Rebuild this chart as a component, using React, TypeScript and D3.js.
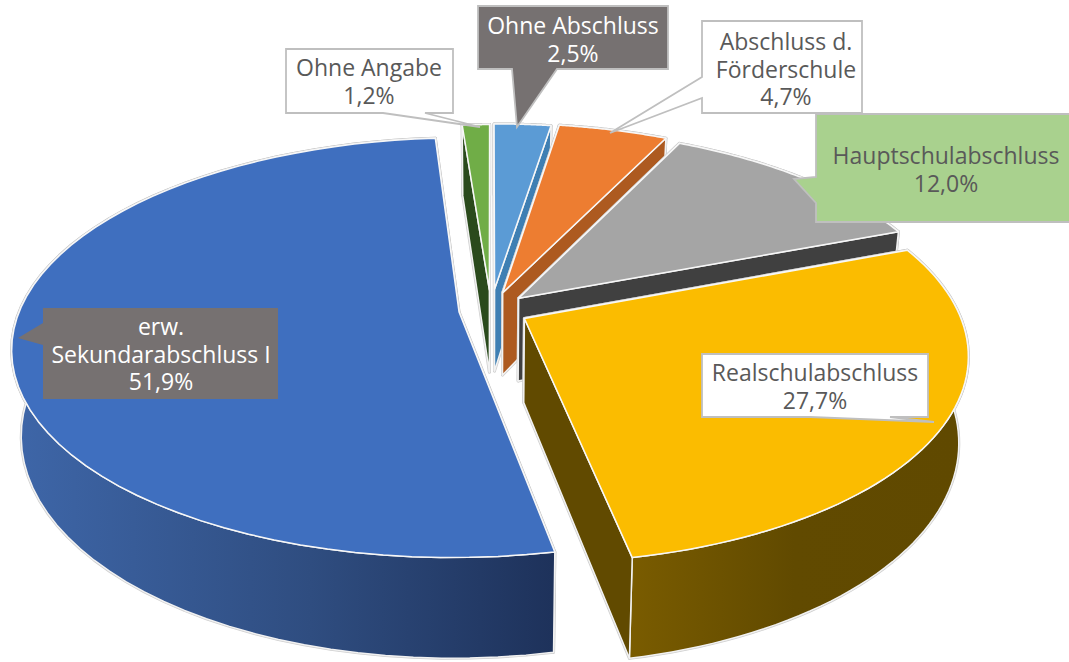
import React from 'react';
import * as d3 from 'd3';

// shares in percent, clockwise from 12 o'clock
const categories = ['Ohne Abschluss', 'Abschluss d. Förderschule', 'Hauptschulabschluss', 'Realschulabschluss', 'erw. Sekundarabschluss I', 'Ohne Angabe'];
const shares = [2.5, 4.7, 12.0, 27.7, 51.9, 1.2];
const labelLines = [['Ohne Abschluss'], ['Abschluss d.', 'Förderschule'], ['Hauptschulabschluss'], ['Realschulabschluss'], ['erw.', 'Sekundarabschluss I'], ['Ohne Angabe']];
const topColors = ['#5B9BD5', '#ED7D31', '#A5A5A5', '#FBBC00', '#3F6FBF', '#70AD47'];
const wallColors = ['#3F7FB3', '#AD5A20', '#404040', '#614A00', '#1F335C', '#2A4A1C'];
const explode = [0.105, 0.09, 0.086, 0.086, 0.073, 0.1];
const radius = [0.975, 0.997, 0.99, 0.983, 0.996, 0.975];
const paintOrder = [0, 1, 2, 5, 4, 3];

const WIDTH = 1069;
const HEIGHT = 662;
const cx = 491;
const cy = 310;
const Rx = 441;
const Ry = 204;
const persp = 0.17;
const depth = 83.5;
const bottomScale = 0.98;

const pie = d3.pie<number>().sort(null).value(d => d);
const arcs = pie(shares);
const fmt = (v: number) => d3.format('.1f')(v).replace('.', ',') + '%';
const toPath = d3.line<[number, number]>();

function project(angle: number, r: number, mid: number, ex: number, bottom: boolean): [number, number] {
  const u = ex * Math.sin(mid) + r * Math.sin(angle);
  const v = ex * Math.cos(mid) + r * Math.cos(angle);
  const p = 1 + persp * v;
  const x = cx + (Rx * u) / p;
  const y = cy - (Ry * v) / p;
  return bottom ? [cx + (x - cx) * bottomScale, y + depth / p] : [x, y];
}

function slicePaths(i: number) {
  const a = arcs[i];
  const mid = (a.startAngle + a.endAngle) / 2;
  const ex = explode[i];
  const r = radius[i];
  const steps = d3.range(0, 61).map(s => a.startAngle + ((a.endAngle - a.startAngle) * s) / 60);
  const topArc = steps.map(t => project(t, r, mid, ex, false));
  const botArc = steps.map(t => project(t, r, mid, ex, true));
  const apexT = project(0, 0, mid, ex, false);
  const apexB = project(0, 0, mid, ex, true);
  const wallStart = toPath([apexT, apexB, botArc[0], topArc[0]])! + 'Z';
  const wallEnd = toPath([apexT, apexB, botArc[60], topArc[60]])! + 'Z';
  // hidden walls go under the outer strip, the one that shows goes over it
  const under = i === 4 ? [wallStart, wallEnd] : i === 5 ? [wallEnd] : [wallStart];
  const over = i === 4 ? [] : i === 5 ? [wallStart] : [wallEnd];
  return {
    top: toPath([apexT, ...topArc])! + 'Z',
    strip: toPath([...topArc, ...[...botArc].reverse()])! + 'Z',
    under,
    over,
  };
}

// callout boxes: [x0, y0, x1, y1], tail polygon, fill, text colour, text centre, first baseline
const callouts = [
  { i: 5, box: [286, 49, 453, 113], tail: [[383, 113], [480, 127], [425, 113]], fill: '#fff', ink: '#595959', tx: 369, ty: 76 },
  { i: 0, box: [478, 6, 668, 69], tail: [[512, 69], [517, 127], [557, 69]], fill: '#767171', ink: '#fff', tx: 573, ty: 34 },
  { i: 1, box: [702, 21, 862, 113], tail: [[702, 77], [610, 133], [702, 98]], fill: '#fff', ink: '#595959', tx: 786, ty: 50 },
  { i: 2, box: [816, 114, 1075, 222], tail: [[816, 177], [794, 179], [816, 203]], fill: '#A9D18E', ink: '#595959', tx: 946, ty: 164 },
  { i: 3, box: [702, 354, 928, 417], tail: [[810, 417], [934, 422], [890, 417]], fill: '#fff', ink: '#595959', tx: 815, ty: 381 },
  { i: 4, box: [43, 308, 278, 399], tail: [[43, 323], [18, 338], [43, 345]], fill: '#767171', ink: '#fff', tx: 161, ty: 335 },
];

function calloutPath(box: number[], tail: number[][]) {
  const [x0, y0, x1, y1] = box;
  // walk the box clockwise and splice the tail into the side it starts on
  const [a, tip, b] = tail;
  if (a[0] === x0) return `M${x0},${y0}L${x1},${y0}L${x1},${y1}L${x0},${y1}L${b[0]},${b[1]}L${tip[0]},${tip[1]}L${a[0]},${a[1]}Z`;
  return `M${x0},${y0}L${x1},${y0}L${x1},${y1}L${b[0]},${b[1]}L${tip[0]},${tip[1]}L${a[0]},${a[1]}L${x0},${y1}Z`;
}

export default function App() {
  return (
    <svg width={WIDTH} height={HEIGHT} style={{ position: 'absolute', left: 0, top: 0, background: '#fff' }} fontFamily="'Open Sans', sans-serif">
      <defs>
        <linearGradient id="wall4" gradientUnits="userSpaceOnUse" x1={15} x2={552} y1={0} y2={0}>
          <stop offset="0" stopColor="#3E66A8" />
          <stop offset="0.55" stopColor="#2F4D80" />
          <stop offset="1" stopColor="#1E325B" />
        </linearGradient>
        <linearGradient id="wall3" gradientUnits="userSpaceOnUse" x1={628} x2={960} y1={0} y2={0}>
          <stop offset="0" stopColor="#7A5C00" />
          <stop offset="0.5" stopColor="#614A00" />
          <stop offset="1" stopColor="#604900" />
        </linearGradient>
      </defs>
      {paintOrder.map(i => {
        const p = slicePaths(i);
        const stripFill = i === 4 ? 'url(#wall4)' : i === 3 ? 'url(#wall3)' : wallColors[i];
        const all = [...p.under, p.strip, ...p.over, p.top];
        return (
          <g key={categories[i]}>
            {all.map((d, k) => (
              <path key={k} d={d} fill="none" stroke="#cfcfcf" strokeWidth={3} strokeLinejoin="round" />
            ))}
            {p.under.map((d, k) => (
              <path key={k} d={d} fill={wallColors[i]} stroke="#f2f2f2" strokeWidth={1.5} strokeLinejoin="round" />
            ))}
            <path d={p.strip} fill={stripFill} stroke="#f2f2f2" strokeWidth={1.5} strokeLinejoin="round" />
            {p.over.map((d, k) => (
              <path key={k} d={d} fill={wallColors[i]} stroke="#f2f2f2" strokeWidth={1.5} strokeLinejoin="round" />
            ))}
            <path d={p.top} fill={topColors[i]} stroke="#f7f7f7" strokeWidth={1.5} strokeLinejoin="round" />
          </g>
        );
      })}
      {callouts.map(c => {
        const lines = [...labelLines[c.i], fmt(shares[c.i])];
        return (
          <g key={c.i}>
            <path d={calloutPath(c.box, c.tail)} fill={c.fill} stroke={c.i === 4 ? 'none' : '#BFBFBF'} strokeWidth={1.8} />
            <text textAnchor="middle" fontSize={23} fill={c.ink}>
              {lines.map((l, k) => (
                <tspan key={k} x={c.tx} y={c.ty + k * 27.5}>{l}</tspan>
              ))}
            </text>
          </g>
        );
      })}
    </svg>
  );
}
